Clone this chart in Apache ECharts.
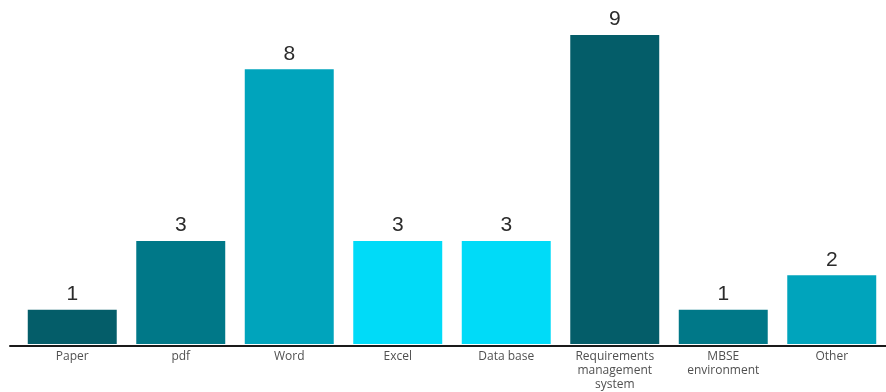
<!DOCTYPE html>
<html><head><meta charset="utf-8">
<script src="https://cdn.jsdelivr.net/npm/echarts@6/dist/echarts.min.js"></script>
<style>html,body{margin:0;padding:0;background:#fff}#c{width:886px;height:392px}</style>
</head><body><div id="c"></div>
<script>
const categories = ['Paper','pdf','Word','Excel','Data base','Requirements\nmanagement\nsystem','MBSE\nenvironment','Other'];
const values = [1,3,8,3,3,9,1,2];
const barColors = ['#045d69','#007888','#00a4bc','#00dbf8','#00dbf8','#045d69','#007888','#00a4bc'];

const chart = echarts.init(document.getElementById('c'));
chart.setOption({
  animation:false,
  grid:[
    {left:18,right:-1,top:35,bottom:46},
    {left:10,right:0,top:35,bottom:46}
  ],
  xAxis:[
    {type:'category',gridIndex:0,data:categories,
     axisLine:{show:false},axisTick:{show:false},
     axisLabel:{interval:0,fontFamily:'Open Sans, sans-serif',fontSize:12,color:'#505050',lineHeight:14,margin:6}},
    {type:'value',gridIndex:1,min:0,max:1,
     axisLine:{show:true,lineStyle:{color:'#1a1a1a',width:2}},axisTick:{show:false},axisLabel:{show:false},splitLine:{show:false}}
  ],
  yAxis:[
    {type:'value',gridIndex:0,min:0,max:9,show:false,splitLine:{show:false}},
    {type:'value',gridIndex:1,min:0,max:9,show:false,splitLine:{show:false}}
  ],
  series:[{
    type:'bar',xAxisIndex:0,yAxisIndex:0,
    data:values.map((v,i)=>({value:v,itemStyle:{color:barColors[i]}})),
    barCategoryGap:'18%',
    label:{show:true,position:'top',distance:5,fontFamily:'Liberation Sans, Arial, sans-serif',fontSize:21,color:'#2b2b2b'}
  }]
});
</script></body></html>
